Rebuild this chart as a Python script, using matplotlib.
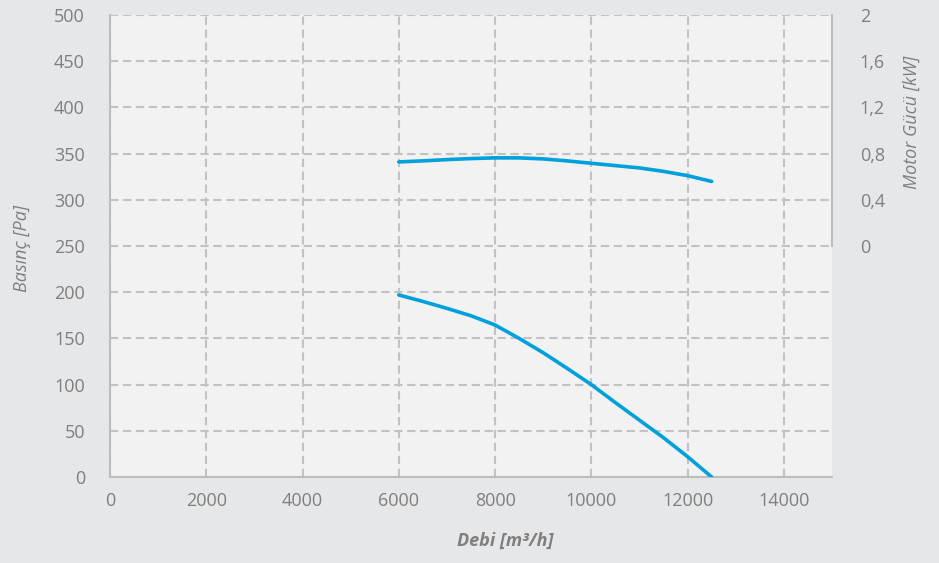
import matplotlib.pyplot as plt
from matplotlib.ticker import FixedLocator, FixedFormatter

# values
debi = [6000, 6500, 7000, 7500, 8000, 8500, 9000, 9500, 10000,
        10500, 11000, 11500, 12000, 12500]
basinc = [197, 190, 182.5, 174.5, 164.5, 150, 134.5, 117.5, 100,
          80.5, 61.5, 42.5, 22, 0]
motor_gucu = [0.728, 0.737, 0.748, 0.757, 0.763, 0.763, 0.754, 0.737, 0.716,
              0.696, 0.676, 0.646, 0.609, 0.559]

x_ticks = [0, 2000, 4000, 6000, 8000, 10000, 12000, 14000]
y_ticks = [0, 50, 100, 150, 200, 250, 300, 350, 400, 450, 500]
kw_ticks = [0, 0.4, 0.8, 1.2, 1.6, 2]
kw_labels = ['0', '0,4', '0,8', '1,2', '1,6', '2']

plt.rcParams['font.family'] = ['Open Sans', 'DejaVu Sans']

fig_bg = '#e6e7e9'
ax_bg = '#f2f2f2'
text_c = '#7f7f7f'
grid_c = '#c2c2c2'
line_c = '#00a0dc'

fig = plt.figure(figsize=(9.39, 5.63), dpi=100, facecolor=fig_bg)
ax = fig.add_axes([110 / 939, 1 - 477 / 563, (832 - 110) / 939, (477 - 15) / 563])
ax.set_facecolor(ax_bg)

ax.set_xlim(0, 15000)
ax.set_ylim(0, 500)
ax.set_xticks(x_ticks)
ax.set_yticks(y_ticks)

ax.grid(True, color=grid_c, linestyle=(0, (4, 2.2)), linewidth=1.5)
ax.set_axisbelow(True)
for s in ['top', 'right']:
    ax.spines[s].set_visible(False)
for s in ['left', 'bottom']:
    ax.spines[s].set_color('#bdbdbd')
    ax.spines[s].set_linewidth(1.5)

ax.tick_params(axis='both', length=0, labelsize=13, labelcolor=text_c)
ax.tick_params(axis='y', pad=18)
ax.tick_params(axis='x', pad=11)

ax.plot(debi, basinc, color=line_c, linewidth=2.6, solid_capstyle='round',
        solid_joinstyle='round', zorder=3)

ax2 = ax.twinx()
ax2.set_ylim(-2, 2)
ax2.yaxis.set_major_locator(FixedLocator(kw_ticks))
ax2.yaxis.set_major_formatter(FixedFormatter(kw_labels))
for s in ['top', 'left', 'bottom']:
    ax2.spines[s].set_visible(False)
ax2.spines['right'].set_bounds(0, 2)
ax2.spines['right'].set_color('#bdbdbd')
ax2.spines['right'].set_linewidth(1.5)
ax2.tick_params(axis='y', length=0, labelsize=13, labelcolor=text_c, pad=20)

ax2.plot(debi, motor_gucu, color=line_c, linewidth=2.6, solid_capstyle='round',
         solid_joinstyle='round', zorder=3)

fig.text(22 / 939, 1 - 248 / 563, 'Basınç [Pa]', rotation=90, ha='center', va='center',
         fontsize=13, style='italic', color=text_c)
fig.text(912 / 939, 1 - 122 / 563, 'Motor Gücü [kW]', rotation=90, ha='center', va='center',
         fontsize=13, style='italic', color=text_c)
fig.text(505 / 939, 1 - 541 / 563, 'Debi [m³/h]', ha='center', va='center',
         fontsize=13, style='italic', fontweight='bold', color=text_c)

plt.savefig('out.png', dpi=100, facecolor=fig_bg)
